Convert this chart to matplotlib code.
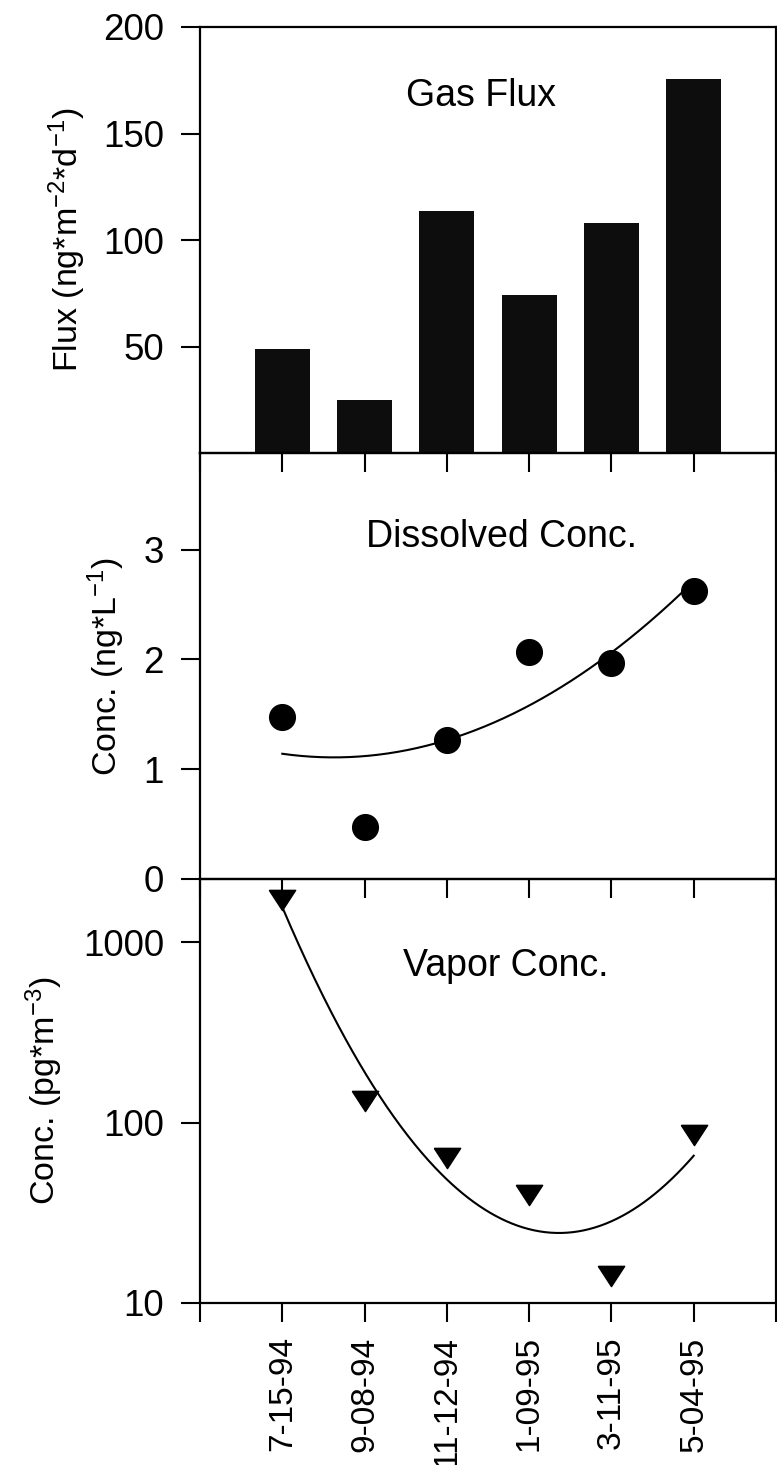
import numpy as np
import matplotlib
matplotlib.use("Agg")
import matplotlib.pyplot as plt
from matplotlib.ticker import FuncFormatter, NullLocator

# Sampling dates and measured values
dates = ["7-15-94", "9-08-94", "11-12-94", "1-09-95", "3-11-95", "5-04-95"]
gas_flux = [49, 25, 113.5, 74, 108, 175.5]            # ng m^-2 d^-1
dissolved_conc = [1.48, 0.47, 1.27, 2.07, 1.97, 2.62]  # ng L^-1
vapor_conc = [1730, 132, 64, 39.5, 14.2, 85]          # pg m^-3

plt.rcParams["font.family"] = ["Liberation Sans", "DejaVu Sans"]
plt.rcParams["mathtext.default"] = "regular"

FIG_W, FIG_H = 777, 1465
fig = plt.figure(figsize=(FIG_W / 100, FIG_H / 100), dpi=100)


def rect(top_px, bot_px, left_px=200, right_px=776):
    return [left_px / FIG_W, 1 - bot_px / FIG_H,
            (right_px - left_px) / FIG_W, (bot_px - top_px) / FIG_H]


ax1 = fig.add_axes(rect(27, 453))
ax2 = fig.add_axes(rect(453, 879))
ax3 = fig.add_axes(rect(879, 1303))

x = np.arange(1, len(dates) + 1)
xs = np.linspace(1, len(dates), 300)

TICK_FS = 26.5
XLAB_FS = 24
YLAB_FS = 24.5
TITLE_FS = 27

# --- Gas flux bars ---
ax1.bar(x, gas_flux, width=0.67, color="#0d0d0d", zorder=2)
ax1.set_ylim(0, 200)
ax1.set_yticks([50, 100, 150, 200])
ax1.set_ylabel("Flux (ng*m$^{-2}$*d$^{-1}$)", fontsize=YLAB_FS, labelpad=11)
ax1.text(0.488, 0.838, "Gas Flux", transform=ax1.transAxes,
         ha="center", va="center", fontsize=TITLE_FS)

# --- Dissolved concentration with quadratic trend ---
d_fit = np.polyfit(x, dissolved_conc, 2)
ax2.plot(xs, np.polyval(d_fit, xs), color="black", lw=1.5, zorder=2)
ax2.plot(x, dissolved_conc, "o", ms=18.5, color="black", zorder=3)
ax2.set_ylim(0, 3.88)
ax2.set_yticks([0, 1, 2, 3])
ax2.set_ylabel("Conc. (ng*L$^{-1}$)", fontsize=YLAB_FS, labelpad=12)
ax2.text(0.524, 0.803, "Dissolved Conc.", transform=ax2.transAxes,
         ha="center", va="center", fontsize=TITLE_FS)

# --- Vapor concentration (log scale) with quadratic trend in log space ---
tri_down = [(-1.3, 1.0), (1.3, 1.0), (0.0, -1.0), (-1.3, 1.0)]
v_fit = np.polyfit(x, np.log10(vapor_conc), 2)
ax3.set_yscale("log")
ax3.plot(xs, 10 ** np.polyval(v_fit, xs), color="black", lw=1.5, zorder=2)
ax3.plot(x, vapor_conc, linestyle="none", marker=tri_down, ms=19,
         color="black", zorder=3)
ax3.set_ylim(10, 2250)
ax3.set_yticks([10, 100, 1000])
ax3.yaxis.set_major_formatter(FuncFormatter(lambda v, p: f"{v:g}"))
ax3.yaxis.set_minor_locator(NullLocator())
ax3.set_ylabel("Conc. (pg*m$^{-3}$)", fontsize=YLAB_FS, labelpad=13)
ax3.text(0.53, 0.795, "Vapor Conc.", transform=ax3.transAxes,
         ha="center", va="center", fontsize=TITLE_FS)

# --- Shared styling ---
for ax in (ax1, ax2, ax3):
    ax.set_xlim(0, len(dates) + 1)
    ax.set_xticks(np.arange(0, len(dates) + 2))
    for sp in ax.spines.values():
        sp.set_linewidth(1.6)
        sp.set_color("black")
    ax.tick_params(axis="both", direction="out", length=14, width=1.5,
                   colors="black")
    ax.tick_params(axis="y", labelsize=TICK_FS, pad=12)
    ax.set_facecolor("none")

ax1.tick_params(axis="x", labelbottom=False)
ax2.tick_params(axis="x", labelbottom=False)
ax3.set_xticklabels([""] + dates + [""], rotation=90, fontsize=XLAB_FS)
ax3.tick_params(axis="x", pad=10)

fig.savefig("out.png", dpi=100)
